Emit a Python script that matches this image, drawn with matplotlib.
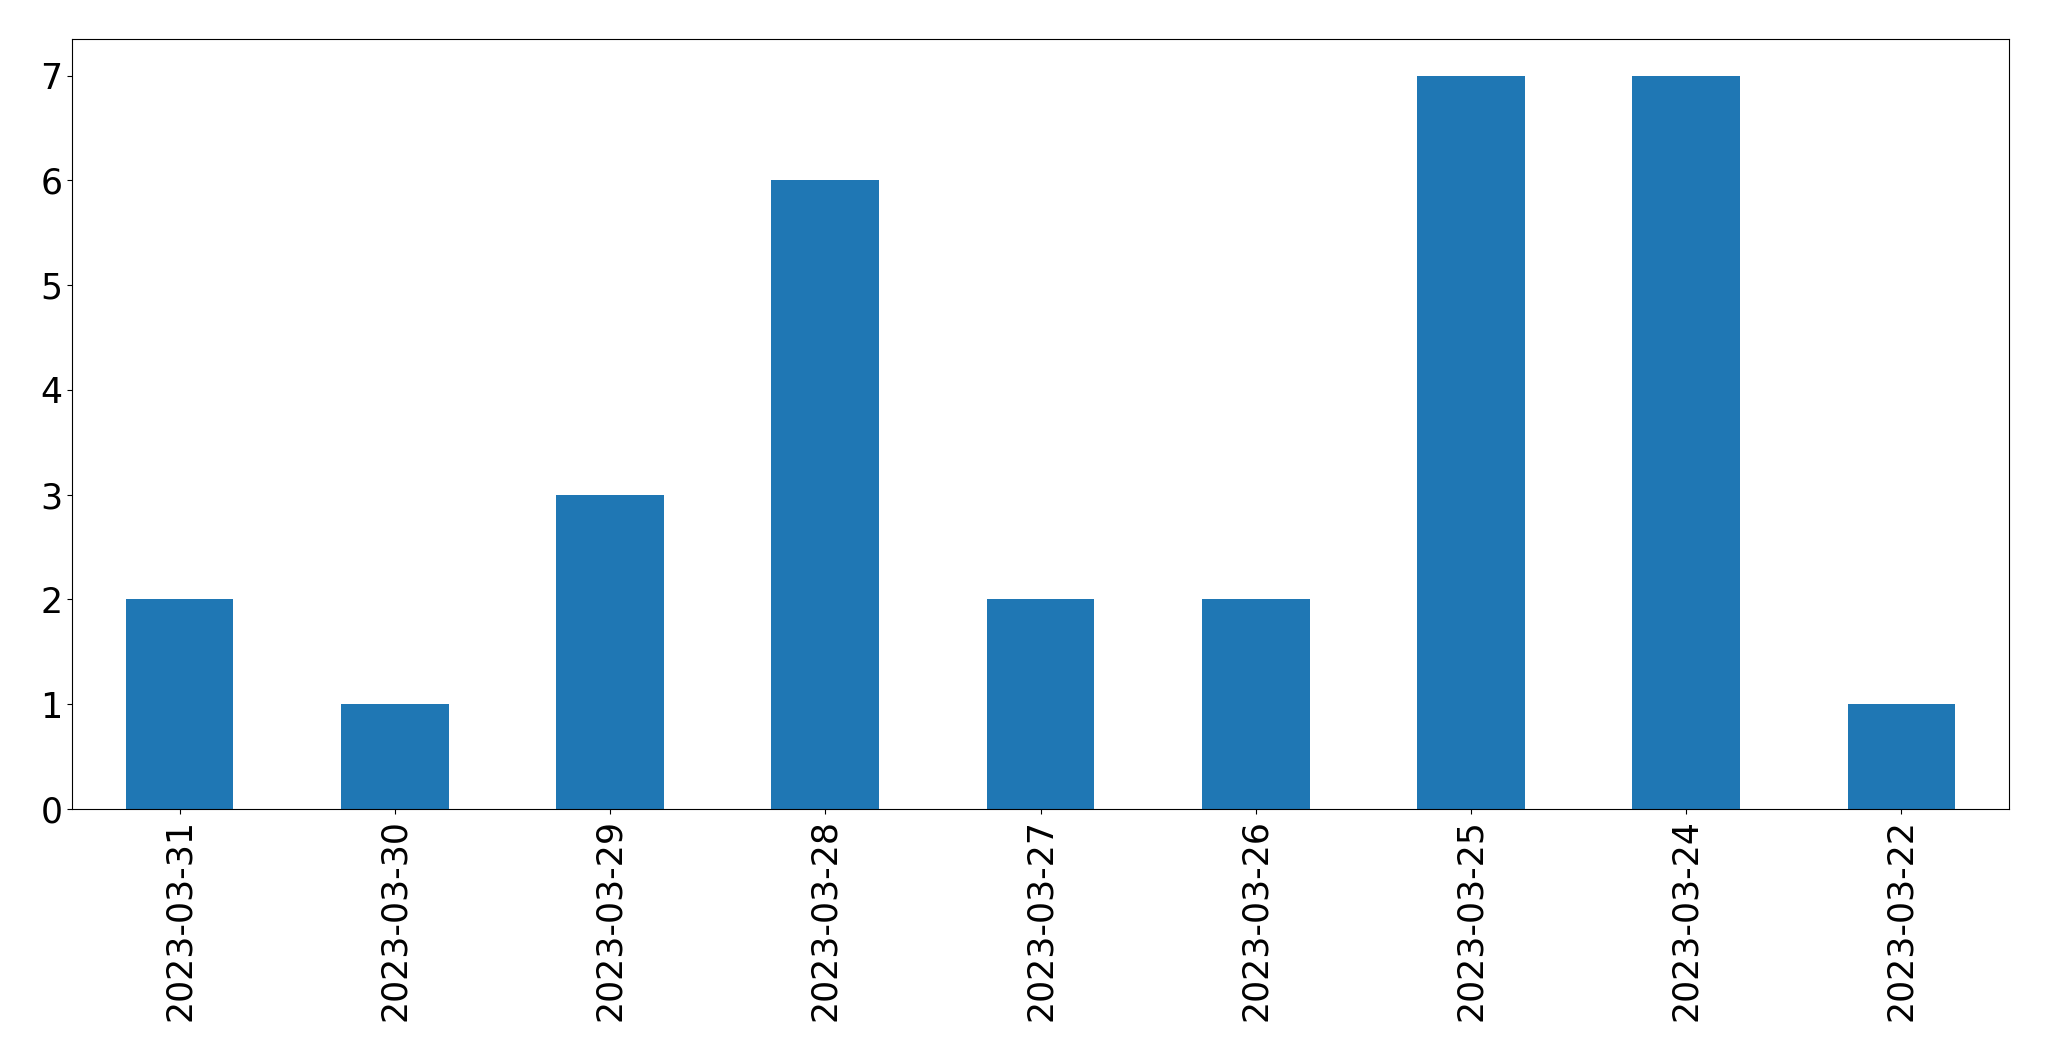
import matplotlib
matplotlib.use("Agg")
import matplotlib.pyplot as plt

dates = ["2023-03-31", "2023-03-30", "2023-03-29", "2023-03-28", "2023-03-27",
         "2023-03-26", "2023-03-25", "2023-03-24", "2023-03-22"]
counts = [2, 1, 3, 6, 2, 2, 7, 7, 1]

fig = plt.figure(figsize=(20.49, 10.61), dpi=100)
ax = fig.add_axes([72/2049, 1 - 809/1061, (2009-72)/2049, (809-39)/1061])
x = list(range(len(dates)))
ax.bar(x, counts, width=0.5, color="#1f77b4")
ax.set_xlim(-0.5, len(dates) - 0.5)
ax.set_ylim(0, 7.35)
ax.set_xticks(x)
ax.set_xticklabels(dates, rotation=90)
ax.tick_params(labelsize=25)
fig.savefig("out.png", dpi=100)
